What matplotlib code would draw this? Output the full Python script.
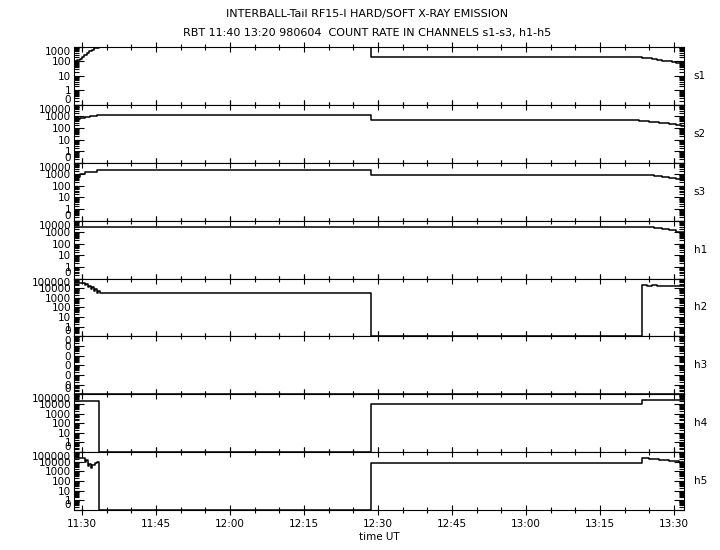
import matplotlib
matplotlib.use("Agg")
import matplotlib.pyplot as plt
import numpy as np
from matplotlib.ticker import FixedLocator, FuncFormatter


# helper: "HH:MM" (minutes may be decimal) -> decimal hours
def hm(s):
    h, m = s.split(":")
    return int(h) + float(m) / 60.0


# channel names (right side labels)
channels = ["s1", "s2", "s3", "h1", "h2", "h3", "h4", "h5"]

# top decade of every panel (bottom is always "0")
top_decade = [3, 4, 4, 4, 5, 5, 5, 5]

# count rates, steps start at the listed times
s1_t = ["11:28.4", "11:29", "11:29.5", "11:30", "11:30.5", "11:31", "11:31.5", "11:32", "11:32.5", "11:33.5",
        "12:28.6", "13:23.5", "13:24.5", "13:25.5", "13:26.5", "13:27.5", "13:28.5", "13:29.5", "13:30.5", "13:31.5", "13:32.1"]
s1_v = [110, 120, 150, 200, 300, 400, 500, 650, 800, 1000,
        200, 185, 165, 150, 130, 115, 100, 90, 80, 70, 65]

s2_t = ["11:28.4", "11:28.6", "11:29.6", "11:30.6", "11:31.6", "11:33",
        "12:28.6", "13:21", "13:23", "13:25", "13:27", "13:29", "13:30.5", "13:31.5", "13:32.1"]
s2_v = [420, 620, 760, 930, 1130, 1370,
        520, 480, 420, 350, 280, 230, 190, 165, 155]

s3_t = ["11:28.4", "11:29.6", "11:30.6", "11:33",
        "12:28.6", "13:24.7", "13:26", "13:27.5", "13:29", "13:30.5", "13:32.1"]
s3_v = [620, 1120, 1700, 2500,
        930, 850, 700, 560, 450, 380, 340]

h1_t = ["11:28.4", "11:29", "12:28.6", "13:26", "13:27.5", "13:29", "13:30.5", "13:32.1"]
h1_v = [2700, 3000, 2800, 2500, 2000, 1500, 1100, 930]

h2_t = ["11:28.4", "11:30.2", "11:30.6", "11:30.9", "11:31.2", "11:31.5", "11:31.8", "11:32.1", "11:32.4",
        "11:32.7", "11:33", "11:33.3", "11:33.6",
        "12:28.6", "13:23.5", "13:24.5", "13:25.5", "13:26.5", "13:27.5", "13:32.1"]
h2_v = [38000, 32000, 20000, 26000, 12000, 18000, 8000, 12000, 5000,
        8000, 3000, 5000, 2800,
        0, 22000, 17000, 23000, 18000, 17000, 17000]

h3_t = ["11:28.4", "13:32.1"]
h3_v = [0, 0]

h4_t = ["11:28.4", "11:33.4", "12:28.6", "13:23.5", "13:32.1"]
h4_v = [19000, 0, 9300, 24000, 24000]

h5_t = ["11:28.4", "11:30.6", "11:30.9", "11:31.2", "11:31.5", "11:31.8", "11:32.1", "11:32.4", "11:32.7",
        "11:33", "11:33.4",
        "12:28.6", "13:23.5", "13:25", "13:27", "13:29", "13:31", "13:32.1"]
h5_v = [24000, 9000, 14000, 4000, 6000, 2200, 4500, 5000, 8000,
        9200, 0,
        7300, 24000, 19000, 15000, 12000, 10000, 9000]

times = [s1_t, s2_t, s3_t, h1_t, h2_t, h3_t, h4_t, h5_t]
values = [s1_v, s2_v, s3_v, h1_v, h2_v, h3_v, h4_v, h5_v]

# x axis ticks (every 15 min) and minor ticks (every 5 min)
xtick_labels = ["11:30", "11:45", "12:00", "12:15", "12:30", "12:45", "13:00", "13:15", "13:30"]
x_left = hm("11:28.38")
x_right = hm("13:32.03")

fig = plt.figure(figsize=(7.2, 5.5), dpi=100)

fig.text(0.51, 1 - 14 / 550, "INTERBALL-Tail RF15-I HARD/SOFT X-RAY EMISSION",
         ha="center", va="center", fontsize=8)
fig.text(0.51, 1 - 33 / 550, "RBT 11:40 13:20 980604  COUNT RATE IN CHANNELS s1-s3, h1-h5",
         ha="center", va="center", fontsize=8)

# panel geometry in pixels
left, right = 74, 684
top, bottom = 47, 510
ph = (bottom - top) / 8.0

for i in range(8):
    y0 = bottom - (i + 1) * ph
    y0 = top + i * ph
    ax = fig.add_axes([left / 720, 1 - (y0 + ph) / 550, (right - left) / 720, ph / 550])

    t = np.array([hm(s) for s in times[i]])
    v = np.array(values[i], dtype=float)
    v = np.where(v <= 0, 0.1, v)  # zero count drawn on the "0" level
    ax.plot(t, v, color="k", lw=1.1, drawstyle="steps-post", clip_on=True)

    ax.set_yscale("log")
    ax.set_xlim(x_left, x_right)
    ax.set_ylim(0.1, 10.0 ** top_decade[i])

    # y ticks: decades plus minor 2..9
    majors = [10.0 ** k for k in range(-1, top_decade[i] + 1)]
    minors = [m * 10.0 ** k for k in range(-1, top_decade[i]) for m in range(2, 10)]
    ax.yaxis.set_major_locator(FixedLocator(majors))
    ax.yaxis.set_minor_locator(FixedLocator(minors))
    if channels[i] == "h3":
        labels = ["0"] * len(majors)
    else:
        labels = ["0"] + [str(int(round(m))) for m in majors[1:]]
    ax.set_yticklabels(labels)
    ax.yaxis.set_minor_formatter(FuncFormatter(lambda x, p: ""))
    ylabs = ax.get_yticklabels()
    ylabs[0].set_va("bottom")
    ylabs[-1].set_va("top")

    # x ticks
    ax.xaxis.set_major_locator(FixedLocator([hm(s) for s in xtick_labels]))
    ax.xaxis.set_minor_locator(FixedLocator(np.arange(hm("11:30"), hm("13:31"), 5 / 60.0)))
    if i == 7:
        ax.set_xticklabels(xtick_labels)
        ax.set_xlabel("time UT", fontsize=7.5, labelpad=2)
    else:
        ax.set_xticklabels([])

    ax.tick_params(axis="y", which="major", direction="in", length=7, width=0.8,
                   left=True, right=True, labelsize=7.5, pad=2)
    ax.tick_params(axis="y", which="minor", direction="in", length=3.5, width=0.8,
                   left=True, right=True)
    ax.tick_params(axis="x", which="major", direction="inout", length=7, width=0.8,
                   top=True, bottom=True, labelsize=7.5, pad=3)
    ax.tick_params(axis="x", which="minor", direction="inout", length=4, width=0.8,
                   top=True, bottom=True)
    for sp in ax.spines.values():
        sp.set_linewidth(0.8)

    # channel name at the right
    ax.text(1.016, 0.5, channels[i], transform=ax.transAxes, ha="left", va="center", fontsize=7.5)

plt.savefig("out.png", dpi=100)
